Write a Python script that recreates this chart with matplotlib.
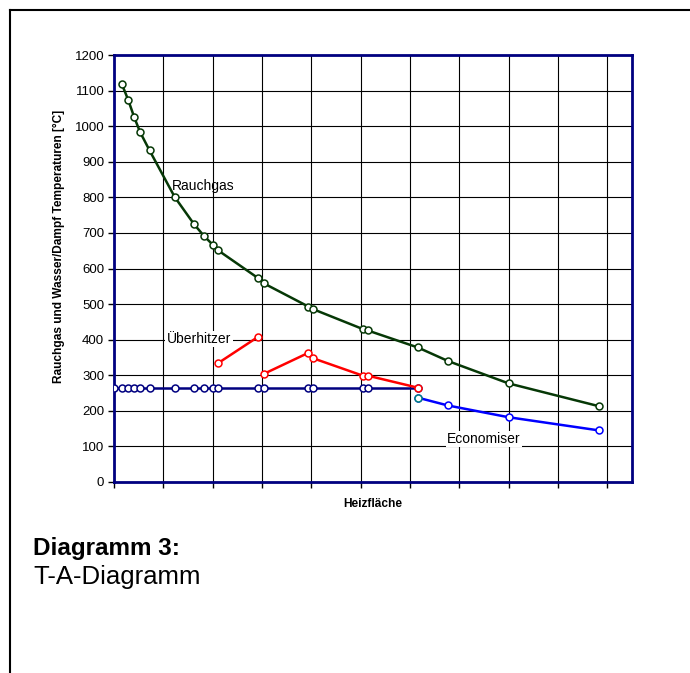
import numpy as np
import matplotlib
matplotlib.use("Agg")
import matplotlib.pyplot as plt
from matplotlib.lines import Line2D

plt.rcParams['font.family'] = ['Liberation Sans', 'DejaVu Sans']

# Rauchgas (Heizfläche-Positionen, Temperatur)
rauchgas_x = [0.16, 0.29, 0.41, 0.53, 0.72, 1.23, 1.62, 1.82, 2.0, 2.11, 2.91, 3.04,
              3.94, 4.03, 5.04, 5.14, 6.16, 6.77, 8.0, 9.83]
rauchgas_y = [1118, 1073, 1025, 983, 932, 801, 725, 692, 667, 651, 574, 558,
              493, 486, 430, 426, 378, 340, 277, 213]

# Verdampfer (Wasser/Dampf, konstant)
verdampfer_x = [0.0, 0.16, 0.29, 0.41, 0.53, 0.72, 1.23, 1.62, 1.82, 2.0, 2.11, 2.91,
                3.04, 3.94, 4.03, 5.04, 5.14, 6.16]
verdampfer_y = [265] * len(verdampfer_x)

# Überhitzer (Lücke zwischen den beiden Abschnitten)
ueberhitzer_x = [2.11, 2.91, np.nan, 3.04, 3.94, 4.03, 5.04, 5.14, 6.16]
ueberhitzer_y = [334, 407, np.nan, 304, 363, 348, 299, 299, 265]

# Economiser
eco_x = [6.16, 6.77, 8.0, 9.83]
eco_y = [237, 215, 182, 145]

W, H = 690, 673
fig = plt.figure(figsize=(W / 100, H / 100), dpi=100)
ax = fig.add_axes([114 / W, 1 - 482 / H, (632 - 114) / W, (482 - 55) / H])

mk = dict(marker='o', markersize=5, markerfacecolor='white', markeredgewidth=1.1)
ax.plot(verdampfer_x, verdampfer_y, color='#000080', lw=1.8, markeredgecolor='#000080', zorder=4, **mk)
ax.plot(ueberhitzer_x, ueberhitzer_y, color='#FF0000', lw=1.8, markeredgecolor='#FF0000', zorder=5, **mk)
ax.plot(eco_x, eco_y, color='#0000FF', lw=1.8, markeredgecolor='#0000FF', zorder=5, **mk)
ax.plot(eco_x[:1], eco_y[:1], ls='none', markeredgecolor='#008080', zorder=6, **mk)
ax.plot(rauchgas_x, rauchgas_y, color='#063806', lw=1.8, markeredgecolor='#063806', zorder=5, **mk)

ax.set_xlim(0, 10.5)
ax.set_ylim(0, 1200)
ax.set_xticks(np.arange(0, 11, 1))
ax.set_xticklabels([])
ax.set_yticks(np.arange(0, 1201, 100))
ax.tick_params(axis='both', direction='out', length=4, width=1, color='black', labelsize=9.5, pad=3)
ax.grid(True, color='black', lw=0.8)
ax.set_axisbelow(True)
for s in ax.spines.values():
    s.set_color('#000080')
    s.set_linewidth(2)

ax.set_ylabel('Rauchgas und Wasser/Dampf Temperaturen [°C]', fontsize=8.6, fontweight='bold')
ax.yaxis.set_label_coords(-0.106, 0.5515)
ax.set_xlabel('Heizfläche', fontsize=8.6, fontweight='bold')
ax.xaxis.set_label_coords(0.5, -0.0515)
ax.xaxis.label.set_va('center')
ax.yaxis.label.set_va('center')

ax.text(1.18, 833, 'Rauchgas', fontsize=10, va='center', ha='left', zorder=7)
ax.text(1.07, 402, 'Überhitzer', fontsize=10, va='center', ha='left', zorder=7,
        bbox=dict(facecolor='white', edgecolor='none', pad=1))
ax.text(6.75, 121, 'Economiser', fontsize=10, va='center', ha='left', zorder=7,
        bbox=dict(facecolor='white', edgecolor='none', pad=1))

fig.text(33 / W, 1 - 549 / H, 'Diagramm 3:', fontsize=17.5, fontweight='bold', va='center', ha='left')
fig.text(33 / W, 1 - 577 / H, 'T-A-Diagramm', fontsize=18.5, va='center', ha='left')

# Rahmen (oben und links)
fig.add_artist(Line2D([10 / W, 1], [1 - 10 / H, 1 - 10 / H], color='black', lw=1.5, transform=fig.transFigure))
fig.add_artist(Line2D([10 / W, 10 / W], [1 - 10 / H, 0], color='black', lw=1.5, transform=fig.transFigure))

fig.savefig('out.png', dpi=100)
